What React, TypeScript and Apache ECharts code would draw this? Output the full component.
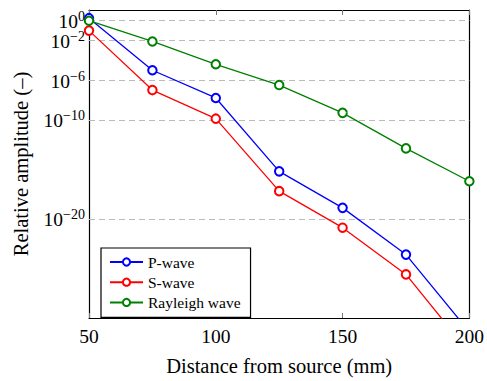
import React, { useEffect, useRef } from "react";
import * as echarts from "echarts";

const distances = [50, 75, 100, 125, 150, 175, 200];
const pWave = [1.8, 1e-5, 1.6e-8, 6.3e-16, 1.3e-19, 2.5e-24, 4e-32];
const sWave = [0.1, 1e-7, 1.3e-10, 6.3e-18, 1.3e-21, 2.5e-26, 3.2e-34];
const rayleighWave = [1, 8e-3, 4e-5, 3.2e-7, 5e-10, 1.3e-13, 6.3e-17];
const seriesNames = ["P-wave", "S-wave", "Rayleigh wave"];
const seriesColors = ["#0000ff", "#ff0000", "#008000"];
const yTickExponents = [0, -2, -6, -10, -20];

const FONT = "'Liberation Serif', 'DejaVu Serif', serif";

export default function App() {
  const ref = useRef<HTMLDivElement>(null);
  useEffect(() => {
    if (!ref.current) return;
    const chart = echarts.init(ref.current, undefined, { renderer: "svg" });
    // y axis works in decades (log10 of the amplitude)
    const yMinExp = -30;
    const yMaxExp = 1.08;
    const makeSeries = (name: string, vals: number[], color: string, idx: number) => {
      const s: any = {
        name,
        type: "line",
        data: distances.map((d, i) => [d, Math.log10(vals[i])]),
        symbol: "emptyCircle",
        symbolSize: 8.5,
        showAllSymbol: true,
        lineStyle: { color, width: 1.3 },
        itemStyle: { color, borderColor: color, borderWidth: 1.3 },
        clip: true,
        z: 3,
      };
      if (idx === 0) {
        s.markLine = {
          silent: true,
          symbol: "none",
          z: 1,
          label: { show: false },
          lineStyle: { color: "#bbbbbb", type: [6, 4], width: 1 },
          data: yTickExponents.map((e) => ({ yAxis: e })),
        };
      }
      return s;
    };
    chart.setOption({
      animation: false,
      backgroundColor: "#fff",
      grid: { left: 89, top: 10, width: 383, height: 317, containLabel: false },
      legend: {
        orient: "vertical",
        left: 101,
        top: 248,
        padding: [6, 10, 7, 8],
        itemGap: 4.2,
        itemWidth: 33,
        itemHeight: 9,
        borderColor: "#000",
        borderWidth: 1.2,
        borderRadius: 0,
        backgroundColor: "#fff",
        textStyle: { fontFamily: FONT, fontSize: 15.5, lineHeight: 14, color: "#000" },
        data: seriesNames,
      },
      xAxis: [
        {
          type: "value",
          min: 50,
          max: 200,
          interval: 50,
          position: "bottom",
          name: "Distance from source (mm)",
          nameLocation: "middle",
          nameGap: 37,
          nameTextStyle: { fontFamily: FONT, fontSize: 20.5, color: "#000" },
          axisLine: { show: true, onZero: false, lineStyle: { color: "#000", width: 1.2 } },
          axisTick: { show: true, inside: true, length: 5, lineStyle: { color: "#777" } },
          axisLabel: { fontFamily: FONT, fontSize: 19.5, color: "#000", margin: 8 },
          splitLine: { show: false },
        },
        {
          type: "value",
          min: 50,
          max: 200,
          interval: 50,
          position: "top",
          axisLine: { show: true, onZero: false, lineStyle: { color: "#000", width: 1.2 } },
          axisTick: { show: true, inside: true, length: 5, lineStyle: { color: "#777" } },
          axisLabel: { show: false },
          splitLine: { show: false },
        },
      ],
      yAxis: [
        {
          type: "value",
          min: yMinExp,
          max: yMaxExp,
          interval: 1,
          position: "left",
          name: "Relative amplitude (–)",
          nameLocation: "middle",
          nameRotate: 90,
          nameGap: 58,
          nameTextStyle: { fontFamily: FONT, fontSize: 20.5, color: "#000" },
          axisLine: { show: true, onZero: false, lineStyle: { color: "#000", width: 1.2 } },
          axisTick: { show: false },
          splitLine: { show: false },
          axisLabel: {
            margin: 4,
            showMaxLabel: false,
            formatter: (v: number) => {
              const e = Math.round(v);
              if (Math.abs(v - e) > 1e-6 || !yTickExponents.includes(e)) return "";
              const sup = e < 0 ? "−" + String(-e) : String(e);
              return "{b|10}{s|" + sup + "}";
            },
            rich: {
              b: { fontFamily: FONT, fontSize: 19.5, color: "#000", lineHeight: 22, verticalAlign: "bottom" },
              s: { fontFamily: FONT, fontSize: 14, color: "#000", lineHeight: 22, verticalAlign: "top" },
            },
          },
        },
        {
          type: "value",
          min: yMinExp,
          max: yMaxExp,
          interval: 1,
          position: "right",
          axisLine: { show: true, onZero: false, lineStyle: { color: "#000", width: 1.2 } },
          axisTick: { show: false },
          axisLabel: { show: false },
          splitLine: { show: false },
        },
      ],
      series: [
        makeSeries(seriesNames[0], pWave, seriesColors[0], 0),
        makeSeries(seriesNames[1], sWave, seriesColors[1], 1),
        makeSeries(seriesNames[2], rayleighWave, seriesColors[2], 2),
      ],
    });
    return () => chart.dispose();
  }, []);
  return (
    <div
      ref={ref}
      style={{ position: "fixed", left: 0, top: 0, width: 487, height: 381 }}
    />
  );
}
